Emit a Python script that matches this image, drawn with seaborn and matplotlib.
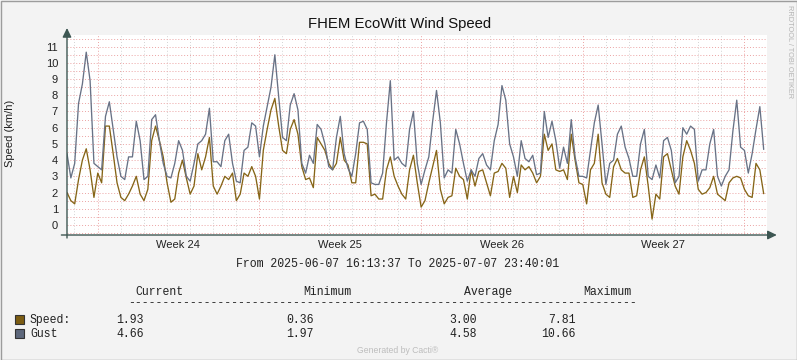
import pandas as pd
import matplotlib
matplotlib.use("Agg")
import matplotlib.pyplot as plt
import matplotlib.dates as mdates
from matplotlib.ticker import MultipleLocator, FixedLocator, NullFormatter
from matplotlib.patches import Rectangle
import seaborn as sns

# --- data (4-hour samples) ---
t_start = pd.Timestamp("2025-06-07 16:13:37")
t_end = pd.Timestamp("2025-07-07 23:40:01")

speed = [
    2.0, 1.5, 1.3, 2.8, 4.0, 4.7, 3.4, 1.7, 3.2, 2.6, 6.1, 6.1, 4.4, 2.6, 1.7, 1.5,
    1.9, 2.4, 3.0, 1.9, 1.5, 2.2, 5.2, 6.1, 5.2, 4.2, 2.6, 1.4, 1.6, 3.2, 4.0,
    2.9, 1.9, 2.4, 4.4, 3.4, 4.2, 5.4, 2.4, 1.9, 2.4, 3.0, 2.8, 3.2, 1.5, 1.9, 3.2,
    3.0, 3.6, 3.0, 1.6, 4.6, 5.9, 7.1, 7.81, 6.1, 4.6, 4.4, 5.9, 6.5, 5.6, 3.6,
    2.8, 2.9, 2.3, 5.4, 5.0, 4.6, 3.8, 3.4, 3.8, 5.4, 4.0, 3.7, 2.6, 2.6, 5.1, 5.1,
    5.0, 1.8, 1.9, 1.6, 1.6, 3.4, 4.2, 3.0, 2.4, 1.9, 1.6, 3.4, 4.3, 2.6, 1.1, 1.5,
    2.6, 3.6, 4.6, 2.2, 1.3, 1.7, 1.8, 3.5, 3.0, 2.8, 1.6, 3.4, 2.4, 3.3, 3.4, 2.6,
    1.8, 3.2, 3.3, 3.8, 3.5, 1.7, 3.0, 2.0, 3.7, 3.4, 3.6, 3.2, 2.6, 3.0, 5.6,
    4.6, 5.0, 3.4, 3.3, 3.4, 2.8, 5.6, 4.0, 2.6, 2.5, 1.3, 3.4, 3.8, 5.6, 2.6, 1.9,
    1.7, 3.6, 4.1, 3.4, 3.2, 3.2, 1.7, 1.8, 3.4, 4.2, 2.4, 0.36, 1.9, 1.6, 4.2,
    4.4, 3.4, 2.4, 1.9, 4.2, 5.2, 4.6, 3.8, 2.2, 1.9, 2.0, 2.3, 3.0, 1.9, 1.7, 1.5,
    2.6, 2.9, 3.0, 2.9, 2.2, 1.8, 1.7, 3.8, 3.4, 1.93,
]
gust = [
    4.4, 2.9, 3.8, 7.5, 8.7, 10.66, 8.9, 3.8, 3.6, 3.4, 6.7, 7.6, 5.9, 4.2, 3.0, 2.8,
    4.2, 4.2, 6.4, 5.2, 2.8, 3.0, 6.5, 6.8, 5.2, 3.8, 3.0, 2.9, 3.8, 5.2, 4.6,
    3.0, 2.7, 3.8, 5.0, 5.2, 5.6, 7.2, 3.9, 3.9, 3.6, 5.2, 5.6, 3.8, 2.7, 2.6, 4.6,
    4.8, 6.3, 6.1, 4.2, 6.1, 7.3, 8.5, 10.5, 7.9, 5.4, 5.2, 7.4, 8.1, 7.1, 3.8,
    3.2, 4.3, 3.8, 6.2, 5.9, 5.0, 3.6, 3.4, 5.4, 6.7, 4.4, 3.5, 3.0, 4.4, 6.3, 6.4,
    5.9, 2.6, 2.5, 2.5, 3.2, 6.3, 8.9, 4.0, 4.2, 3.8, 3.6, 5.9, 7.0, 3.8, 2.5, 3.4,
    4.2, 6.4, 8.3, 6.3, 2.9, 3.4, 3.2, 5.9, 5.0, 3.8, 2.7, 3.4, 3.0, 4.1, 4.4, 3.7,
    3.4, 5.2, 6.2, 8.6, 7.7, 5.0, 4.2, 3.0, 5.2, 4.1, 3.9, 4.3, 3.1, 3.2, 7.0,
    5.4, 6.4, 5.2, 3.5, 4.8, 3.8, 6.5, 4.2, 3.0, 3.0, 2.9, 4.6, 6.3, 7.4, 5.0, 2.5,
    3.8, 4.0, 5.6, 6.1, 4.8, 4.1, 3.0, 3.0, 5.0, 5.9, 3.0, 2.8, 3.7, 2.9, 5.2,
    5.4, 4.6, 2.6, 3.0, 6.0, 5.6, 6.1, 5.9, 2.7, 3.4, 3.4, 5.0, 5.9, 3.0, 2.4, 3.0,
    3.4, 5.8, 7.7, 4.8, 4.6, 3.2, 4.4, 5.9, 7.3, 4.66,
]
times = pd.date_range(t_start, periods=len(speed), freq="4h")

series_names = ["Speed", "Gust"]
legend_labels = ["Speed:", "Gust"]
current = ["1.93", "4.66"]
minimum = ["0.36", "1.97"]
average = ["3.00", "4.58"]
maximum = ["7.81", "10.66"]
week_starts = pd.date_range("2025-06-09", periods=5, freq="7D")
week_labels = ["Week 24", "Week 25", "Week 26", "Week 27"]

colors = {"Speed": "#866517", "Gust": "#687286"}
swatch = {"Speed": "#7b5c12", "Gust": "#5d677b"}
axis_c = "#3d5652"
pink = "#eba3a3"
grey = "#d4d4d4"

W, H = 797, 360
sns.set_theme(style="white")
plt.rcParams["font.family"] = ["Liberation Sans", "DejaVu Sans"]

fig = plt.figure(figsize=(W / 100, H / 100), dpi=100, facecolor="#f3f3f3")
ax = fig.add_axes([67 / W, 1 - 235 / H, 700 / W, 200 / H])
ax.set_facecolor("white")

df = pd.DataFrame({"time": times, "Speed": speed, "Gust": gust})
df = df.melt(id_vars="time", value_vars=series_names, var_name="series", value_name="kmh")
sns.lineplot(data=df, x="time", y="kmh", hue="series", hue_order=series_names,
             palette=colors, linewidth=0.95, legend=False, ax=ax)

ax.set_xlim(t_start, t_end)
ax.set_ylim(-0.62, 11.72)
ax.set_xlabel("")
ax.set_ylabel("")
for s in ax.spines.values():
    s.set_visible(False)

# grid
ax.yaxis.set_major_locator(MultipleLocator(1))
ax.yaxis.set_minor_locator(MultipleLocator(0.5))
ax.xaxis.set_major_locator(FixedLocator(mdates.date2num(week_starts)))
ax.xaxis.set_minor_locator(mdates.DayLocator())
ax.xaxis.set_major_formatter(NullFormatter())
ax.set_axisbelow(True)
ax.grid(which="both", axis="y", color=pink, linestyle=(0, (1, 2)), linewidth=0.7)
ax.grid(which="minor", axis="x", color=grey, linestyle=(0, (1, 2)), linewidth=0.7)
ax.grid(which="major", axis="x", color=pink, linestyle=(0, (1, 2)), linewidth=0.7)
ax.tick_params(axis="y", which="major", length=3, width=0.7, direction="inout",
               color=axis_c, labelsize=8, pad=5, labelcolor="#222222")
ax.tick_params(axis="y", which="minor", length=2, width=0.6, direction="inout", color=axis_c)
ax.tick_params(axis="x", which="both", length=2, width=0.6, direction="inout", color=axis_c)

centers = week_starts[:-1] + pd.Timedelta(hours=84)
sec = ax.secondary_xaxis("bottom")
sec.set_xticks(mdates.date2num(centers), labels=week_labels)
sec.tick_params(length=0, pad=3.5, labelsize=8, labelcolor="#222222")
sec.spines["bottom"].set_visible(False)

# axes with arrows
arrow = dict(arrowstyle="-|>,head_length=0.45,head_width=0.22", color=axis_c,
             lw=1.0, shrinkA=0, shrinkB=0)
ax.annotate("", xy=(1.014, 0), xytext=(-0.008, 0), xycoords="axes fraction", arrowprops=arrow)
ax.annotate("", xy=(0, 1.035), xytext=(0, -0.015), xycoords="axes fraction", arrowprops=arrow)

# texts
fig.text(400 / W, 1 - 28 / H, "FHEM EcoWitt Wind Speed", ha="center", va="baseline",
         fontsize=10.7, color="#111111")
fig.text(10 / W, 1 - 133 / H, "Speed (km/h)", rotation=90, ha="center", va="center",
         fontsize=8, color="#222222")
fig.text(789 / W, 1 - 5 / H, "RRDTOOL / TOBI OETIKER", rotation=270, ha="center", va="top",
         fontsize=5.3, color="#b4b4b4")

mono = dict(family=["Liberation Mono", "DejaVu Sans Mono"], fontsize=8.3, color="#222222",
            va="baseline")
fig.text(398 / W, 1 - 267 / H,
         f"From {t_start:%Y-%m-%d %H:%M:%S} To {t_end:%Y-%m-%d %H:%M:%S}", ha="center", **mono)
for txt, x in zip(["Current", "Minimum", "Average", "Maximum"], [135, 303, 464, 583]):
    fig.text(x / W, 1 - 295 / H, txt, ha="left", **mono)
fig.text(128 / W, 1 - 306 / H, "-" * 74, ha="left", **mono)

rows_y = [323, 337]
for i, name in enumerate(series_names):
    y = rows_y[i]
    fig.add_artist(Rectangle((15 / W, 1 - (y + 1) / H), 9 / W, 9 / H, transform=fig.transFigure,
                             facecolor=swatch[name], edgecolor="#333333", linewidth=0.8))
    fig.text(30 / W, 1 - y / H, legend_labels[i], ha="left", **mono)
    for vals, xr in zip([current, minimum, average, maximum], [144, 314, 477, 576]):
        fig.text(xr / W, 1 - y / H, vals[i], ha="right", **mono)

fig.text(398 / W, 1 - 353 / H, "Generated by Cacti\u00ae", ha="center", va="baseline",
         fontsize=6.2, color="#bdbdbd")

fig.add_artist(Rectangle((0.5 / W, 0.5 / H), (W - 1) / W, (H - 1) / H, transform=fig.transFigure,
                         fill=False, edgecolor="#9c9c9c", linewidth=1.0))

fig.savefig("out.png", dpi=100, facecolor=fig.get_facecolor())
